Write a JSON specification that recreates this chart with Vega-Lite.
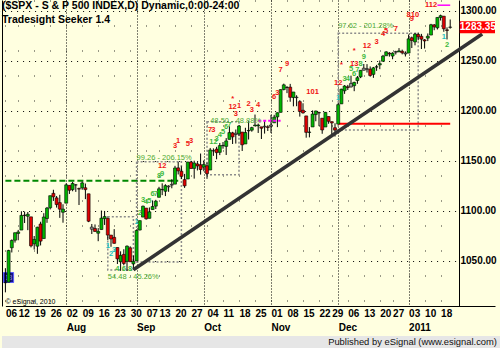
{
  "$schema": "https://vega.github.io/schema/vega-lite/v6.json",
  "background": "#FFFFE0",
  "padding": 0,
  "spacing": 0,
  "align": "none",
  "config": {
    "view": {"stroke": null},
    "font": "Liberation Sans",
    "axis": {"labelFont": "Liberation Sans", "labelFontWeight": "bold", "labelFontSize": 10, "labelColor": "#000000", "ticks": false, "domainColor": "#000000", "gridColor": "#000000", "zindex": 0, "labelOverlap": false, "labelFlush": false, "labelBound": false}
  },
  "datasets": {
    "px": [
      {"d":"2010-07-06","o":1028.09,"h":1042.5,"l":1018.35,"c":1028.06},
      {"d":"2010-07-07","o":1028.54,"h":1060.89,"l":1028.54,"c":1060.27},
      {"d":"2010-07-08","o":1062.92,"h":1071.25,"l":1058.24,"c":1070.25},
      {"d":"2010-07-09","o":1070.5,"h":1078.16,"l":1068.1,"c":1077.96},
      {"d":"2010-07-12","o":1077.23,"h":1080.78,"l":1070.45,"c":1078.75},
      {"d":"2010-07-13","o":1080.65,"h":1099.46,"l":1080.65,"c":1095.34},
      {"d":"2010-07-14","o":1095.61,"h":1099.08,"l":1087.68,"c":1095.17},
      {"d":"2010-07-15","o":1094.46,"h":1098.66,"l":1080.53,"c":1096.48},
      {"d":"2010-07-16","o":1093.85,"h":1093.85,"l":1063.32,"c":1064.88},
      {"d":"2010-07-19","o":1066.85,"h":1074.7,"l":1061.11,"c":1071.25},
      {"d":"2010-07-20","o":1064.53,"h":1083.94,"l":1056.88,"c":1083.48},
      {"d":"2010-07-21","o":1086.67,"h":1088.96,"l":1065.25,"c":1069.59},
      {"d":"2010-07-22","o":1072.14,"h":1097.5,"l":1072.14,"c":1093.67},
      {"d":"2010-07-23","o":1092.17,"h":1103.73,"l":1087.88,"c":1102.66},
      {"d":"2010-07-26","o":1102.89,"h":1115.01,"l":1101.3,"c":1115.01},
      {"d":"2010-07-27","o":1117.36,"h":1120.95,"l":1109.78,"c":1113.84},
      {"d":"2010-07-28","o":1112.84,"h":1114.66,"l":1103.11,"c":1106.13},
      {"d":"2010-07-29","o":1108.07,"h":1115.9,"l":1092.82,"c":1101.53},
      {"d":"2010-07-30","o":1098.44,"h":1106.44,"l":1088.01,"c":1101.6},
      {"d":"2010-08-02","o":1107.53,"h":1127.3,"l":1107.53,"c":1125.86},
      {"d":"2010-08-03","o":1125.34,"h":1125.44,"l":1116.76,"c":1120.46},
      {"d":"2010-08-04","o":1121.06,"h":1128.75,"l":1119.46,"c":1127.24},
      {"d":"2010-08-05","o":1125.78,"h":1126.56,"l":1118.81,"c":1125.81},
      {"d":"2010-08-06","o":1122.07,"h":1123.06,"l":1105.67,"c":1121.64},
      {"d":"2010-08-09","o":1122.8,"h":1129.24,"l":1120.91,"c":1127.79},
      {"d":"2010-08-10","o":1122.92,"h":1127.16,"l":1111.58,"c":1121.06},
      {"d":"2010-08-11","o":1116.89,"h":1116.89,"l":1088.55,"c":1089.47},
      {"d":"2010-08-12","o":1081.48,"h":1086.72,"l":1076.69,"c":1083.61},
      {"d":"2010-08-13","o":1082.22,"h":1086.25,"l":1079.0,"c":1079.25},
      {"d":"2010-08-16","o":1077.49,"h":1082.62,"l":1069.49,"c":1079.38},
      {"d":"2010-08-17","o":1081.16,"h":1100.14,"l":1081.16,"c":1092.54},
      {"d":"2010-08-18","o":1092.08,"h":1099.77,"l":1085.76,"c":1094.16},
      {"d":"2010-08-19","o":1092.44,"h":1092.44,"l":1070.66,"c":1075.63},
      {"d":"2010-08-20","o":1075.63,"h":1075.63,"l":1063.91,"c":1071.69},
      {"d":"2010-08-23","o":1073.36,"h":1081.58,"l":1067.08,"c":1067.36},
      {"d":"2010-08-24","o":1063.2,"h":1063.2,"l":1046.68,"c":1051.87},
      {"d":"2010-08-25","o":1048.98,"h":1059.38,"l":1039.83,"c":1055.33},
      {"d":"2010-08-26","o":1056.28,"h":1061.45,"l":1045.4,"c":1047.22},
      {"d":"2010-08-27","o":1049.27,"h":1065.21,"l":1039.7,"c":1064.59},
      {"d":"2010-08-30","o":1062.9,"h":1064.4,"l":1048.79,"c":1048.92},
      {"d":"2010-08-31","o":1046.88,"h":1055.14,"l":1040.88,"c":1049.33},
      {"d":"2010-09-01","o":1049.72,"h":1081.3,"l":1049.72,"c":1080.29},
      {"d":"2010-09-02","o":1080.66,"h":1090.1,"l":1080.39,"c":1090.1},
      {"d":"2010-09-03","o":1093.61,"h":1105.1,"l":1093.61,"c":1104.51},
      {"d":"2010-09-07","o":1102.6,"h":1102.6,"l":1091.15,"c":1091.84},
      {"d":"2010-09-08","o":1092.36,"h":1103.26,"l":1092.36,"c":1098.87},
      {"d":"2010-09-09","o":1101.15,"h":1110.27,"l":1101.15,"c":1104.18},
      {"d":"2010-09-10","o":1104.57,"h":1110.88,"l":1101.67,"c":1109.55},
      {"d":"2010-09-13","o":1113.38,"h":1123.87,"l":1113.38,"c":1121.9},
      {"d":"2010-09-14","o":1121.16,"h":1127.36,"l":1115.58,"c":1121.1},
      {"d":"2010-09-15","o":1119.43,"h":1126.46,"l":1114.63,"c":1125.07},
      {"d":"2010-09-16","o":1123.89,"h":1125.44,"l":1118.88,"c":1124.66},
      {"d":"2010-09-17","o":1126.39,"h":1131.47,"l":1122.43,"c":1125.59},
      {"d":"2010-09-20","o":1126.57,"h":1144.86,"l":1126.57,"c":1142.71},
      {"d":"2010-09-21","o":1142.82,"h":1148.59,"l":1136.22,"c":1139.78},
      {"d":"2010-09-22","o":1139.49,"h":1144.38,"l":1131.58,"c":1134.28},
      {"d":"2010-09-23","o":1131.1,"h":1136.77,"l":1122.79,"c":1124.83},
      {"d":"2010-09-24","o":1131.69,"h":1148.9,"l":1131.69,"c":1148.67},
      {"d":"2010-09-27","o":1148.64,"h":1149.92,"l":1142.0,"c":1142.16},
      {"d":"2010-09-28","o":1142.31,"h":1150.0,"l":1132.09,"c":1147.7},
      {"d":"2010-09-29","o":1146.75,"h":1148.63,"l":1140.26,"c":1144.73},
      {"d":"2010-09-30","o":1145.97,"h":1157.16,"l":1136.08,"c":1141.2},
      {"d":"2010-10-01","o":1143.49,"h":1150.3,"l":1139.42,"c":1146.24},
      {"d":"2010-10-04","o":1144.96,"h":1148.16,"l":1131.87,"c":1137.03},
      {"d":"2010-10-05","o":1140.68,"h":1162.76,"l":1140.68,"c":1160.75},
      {"d":"2010-10-06","o":1159.81,"h":1162.33,"l":1154.85,"c":1159.97},
      {"d":"2010-10-07","o":1161.57,"h":1163.87,"l":1151.41,"c":1158.06},
      {"d":"2010-10-08","o":1158.36,"h":1167.73,"l":1155.58,"c":1165.15},
      {"d":"2010-10-11","o":1165.0,"h":1168.68,"l":1162.02,"c":1165.32},
      {"d":"2010-10-12","o":1164.28,"h":1172.58,"l":1155.71,"c":1169.77},
      {"d":"2010-10-13","o":1171.32,"h":1184.38,"l":1171.32,"c":1178.1},
      {"d":"2010-10-14","o":1177.82,"h":1178.89,"l":1166.71,"c":1173.81},
      {"d":"2010-10-15","o":1177.47,"h":1181.2,"l":1167.12,"c":1176.19},
      {"d":"2010-10-18","o":1176.83,"h":1185.53,"l":1174.55,"c":1184.71},
      {"d":"2010-10-19","o":1178.64,"h":1178.64,"l":1159.71,"c":1165.9},
      {"d":"2010-10-20","o":1166.74,"h":1182.94,"l":1166.74,"c":1178.17},
      {"d":"2010-10-21","o":1179.82,"h":1189.43,"l":1171.17,"c":1180.26},
      {"d":"2010-10-22","o":1180.52,"h":1183.93,"l":1178.99,"c":1183.08},
      {"d":"2010-10-25","o":1184.74,"h":1196.14,"l":1184.74,"c":1185.62},
      {"d":"2010-10-26","o":1184.88,"h":1187.11,"l":1177.72,"c":1185.64},
      {"d":"2010-10-27","o":1183.84,"h":1183.84,"l":1171.7,"c":1182.45},
      {"d":"2010-10-28","o":1184.47,"h":1189.53,"l":1177.1,"c":1183.78},
      {"d":"2010-10-29","o":1183.87,"h":1185.46,"l":1179.7,"c":1183.26},
      {"d":"2010-11-01","o":1185.71,"h":1195.81,"l":1177.65,"c":1184.38},
      {"d":"2010-11-02","o":1187.86,"h":1195.88,"l":1187.86,"c":1193.57},
      {"d":"2010-11-03","o":1193.79,"h":1198.3,"l":1183.56,"c":1197.96},
      {"d":"2010-11-04","o":1198.34,"h":1221.25,"l":1198.34,"c":1221.06},
      {"d":"2010-11-05","o":1221.2,"h":1227.08,"l":1220.29,"c":1225.85},
      {"d":"2010-11-08","o":1223.24,"h":1224.57,"l":1217.55,"c":1223.25},
      {"d":"2010-11-09","o":1223.59,"h":1226.84,"l":1208.94,"c":1213.4},
      {"d":"2010-11-10","o":1213.14,"h":1218.75,"l":1204.33,"c":1218.71},
      {"d":"2010-11-11","o":1213.04,"h":1215.45,"l":1204.49,"c":1213.54},
      {"d":"2010-11-12","o":1209.07,"h":1210.5,"l":1194.08,"c":1199.21},
      {"d":"2010-11-15","o":1200.44,"h":1207.43,"l":1197.15,"c":1197.75},
      {"d":"2010-11-16","o":1194.79,"h":1194.79,"l":1173.0,"c":1178.34},
      {"d":"2010-11-17","o":1178.33,"h":1183.56,"l":1173.34,"c":1178.59},
      {"d":"2010-11-18","o":1183.75,"h":1200.29,"l":1183.75,"c":1196.69},
      {"d":"2010-11-19","o":1196.12,"h":1199.97,"l":1189.44,"c":1199.73},
      {"d":"2010-11-22","o":1198.07,"h":1198.94,"l":1184.58,"c":1197.84},
      {"d":"2010-11-23","o":1192.51,"h":1192.51,"l":1176.91,"c":1180.73},
      {"d":"2010-11-24","o":1183.7,"h":1198.62,"l":1183.7,"c":1198.35},
      {"d":"2010-11-26","o":1194.16,"h":1194.16,"l":1186.93,"c":1189.4},
      {"d":"2010-11-29","o":1189.08,"h":1189.08,"l":1173.64,"c":1187.76},
      {"d":"2010-11-30","o":1182.96,"h":1187.4,"l":1174.14,"c":1180.55},
      {"d":"2010-12-01","o":1186.6,"h":1207.61,"l":1186.6,"c":1206.07},
      {"d":"2010-12-02","o":1206.81,"h":1221.89,"l":1206.81,"c":1221.53},
      {"d":"2010-12-03","o":1219.93,"h":1225.57,"l":1216.82,"c":1224.71},
      {"d":"2010-12-06","o":1223.87,"h":1225.8,"l":1220.67,"c":1223.12},
      {"d":"2010-12-07","o":1227.25,"h":1235.05,"l":1223.25,"c":1223.75},
      {"d":"2010-12-08","o":1225.02,"h":1228.93,"l":1219.5,"c":1228.28},
      {"d":"2010-12-09","o":1230.14,"h":1234.71,"l":1226.85,"c":1233.0},
      {"d":"2010-12-10","o":1233.85,"h":1240.4,"l":1232.58,"c":1240.4},
      {"d":"2010-12-13","o":1242.52,"h":1246.73,"l":1240.34,"c":1240.46},
      {"d":"2010-12-14","o":1241.84,"h":1246.59,"l":1238.17,"c":1241.59},
      {"d":"2010-12-15","o":1241.58,"h":1244.25,"l":1234.01,"c":1235.23},
      {"d":"2010-12-16","o":1236.34,"h":1243.75,"l":1232.85,"c":1242.87},
      {"d":"2010-12-17","o":1243.63,"h":1245.81,"l":1239.87,"c":1243.91},
      {"d":"2010-12-20","o":1245.76,"h":1250.2,"l":1241.51,"c":1247.08},
      {"d":"2010-12-21","o":1249.43,"h":1255.82,"l":1249.43,"c":1254.6},
      {"d":"2010-12-22","o":1254.94,"h":1259.39,"l":1254.94,"c":1258.84},
      {"d":"2010-12-23","o":1257.53,"h":1258.59,"l":1254.05,"c":1256.77},
      {"d":"2010-12-27","o":1254.66,"h":1258.43,"l":1251.48,"c":1257.54},
      {"d":"2010-12-28","o":1259.1,"h":1259.9,"l":1256.22,"c":1258.51},
      {"d":"2010-12-29","o":1258.78,"h":1262.6,"l":1258.78,"c":1259.78},
      {"d":"2010-12-30","o":1259.44,"h":1261.09,"l":1256.32,"c":1257.88},
      {"d":"2010-12-31","o":1256.76,"h":1259.34,"l":1254.19,"c":1257.64},
      {"d":"2011-01-03","o":1257.62,"h":1276.17,"l":1257.62,"c":1271.87},
      {"d":"2011-01-04","o":1272.95,"h":1274.12,"l":1262.66,"c":1270.2},
      {"d":"2011-01-05","o":1268.78,"h":1277.63,"l":1265.36,"c":1276.56},
      {"d":"2011-01-06","o":1276.29,"h":1278.17,"l":1270.43,"c":1273.85},
      {"d":"2011-01-07","o":1274.41,"h":1276.83,"l":1261.7,"c":1271.5},
      {"d":"2011-01-10","o":1270.84,"h":1271.52,"l":1262.18,"c":1269.75},
      {"d":"2011-01-11","o":1272.58,"h":1277.25,"l":1269.62,"c":1274.48},
      {"d":"2011-01-12","o":1275.65,"h":1286.87,"l":1275.65,"c":1285.96},
      {"d":"2011-01-13","o":1285.78,"h":1286.7,"l":1280.47,"c":1283.76},
      {"d":"2011-01-14","o":1282.9,"h":1293.24,"l":1281.24,"c":1293.24},
      {"d":"2011-01-18","o":1293.22,"h":1296.06,"l":1290.16,"c":1295.02},
      {"d":"2011-01-19","o":1294.52,"h":1294.6,"l":1278.92,"c":1281.92},
      {"d":"2011-01-20","o":1280.85,"h":1283.35,"l":1271.26,"c":1280.26},
      {"d":"2011-01-21","o":1283.63,"h":1291.21,"l":1282.07,"c":1283.35}
    ],
    "ann": [
      {"d":"2010-09-14","p":1145,"t":"12","k":"r"},
      {"d":"2010-09-20","p":1165,"t":"3","k":"r"},
      {"d":"2010-09-21","p":1170,"t":"1","k":"r"},
      {"d":"2010-09-24","p":1167,"t":"5","k":"r"},
      {"d":"2010-09-27","p":1170,"t":"3","k":"r"},
      {"d":"2010-10-05","p":1181,"t":"7","k":"r"},
      {"d":"2010-10-06","p":1181,"t":"3","k":"r"},
      {"d":"2010-10-14","p":1204,"t":"12","k":"r"},
      {"d":"2010-10-15","p":1197,"t":"3","k":"r"},
      {"d":"2010-10-18","p":1205,"t":"1","k":"r"},
      {"d":"2010-10-14","p":1212,"t":"*","k":"r"},
      {"d":"2010-10-21","p":1207,"t":"2","k":"r"},
      {"d":"2010-10-22","p":1201,"t":"3","k":"r"},
      {"d":"2010-10-26","p":1206,"t":"4","k":"r"},
      {"d":"2010-11-02","p":1214,"t":"6","k":"r"},
      {"d":"2010-11-03","p":1218,"t":"3","k":"r"},
      {"d":"2010-11-04","p":1241,"t":"7","k":"r"},
      {"d":"2010-11-08","p":1247,"t":"9","k":"r"},
      {"d":"2010-11-18","p":1219,"t":"101","k":"r"},
      {"d":"2010-12-01","p":1228,"t":"12","k":"r"},
      {"d":"2010-12-02","p":1246,"t":"*","k":"r"},
      {"d":"2010-12-08","p":1247,"t":"13","k":"r"},
      {"d":"2010-12-08","p":1260,"t":"*","k":"r"},
      {"d":"2010-12-14","p":1265,"t":"12","k":"r"},
      {"d":"2010-12-17","p":1269,"t":"3","k":"r"},
      {"d":"2010-12-21","p":1277,"t":"4","k":"r"},
      {"d":"2010-12-22","p":1280,"t":"5","k":"r"},
      {"d":"2010-12-28","p":1282,"t":"7","k":"r"},
      {"d":"2011-01-03","p":1296,"t":"8","k":"r"},
      {"d":"2011-01-04","p":1292,"t":"9","k":"r"},
      {"d":"2011-01-05","p":1296,"t":"10","k":"r"},
      {"d":"2011-01-12","p":1305.5,"t":"112","k":"r"},
      {"d":"2010-08-19","p":1065,"t":"1","k":"c"},
      {"d":"2010-08-20","p":1057,"t":"2","k":"c"},
      {"d":"2010-08-23","p":1061,"t":"3","k":"c"},
      {"d":"2010-08-24","p":1042,"t":"4","k":"g"},
      {"d":"2010-08-26","p":1042,"t":"6","k":"g"},
      {"d":"2010-08-30","p":1042,"t":"8","k":"g"},
      {"d":"2010-09-01","p":1089,"t":"1","k":"c"},
      {"d":"2010-09-02","p":1098,"t":"2","k":"g"},
      {"d":"2010-09-03","p":1111,"t":"3","k":"g"},
      {"d":"2010-09-07","p":1109,"t":"4","k":"g"},
      {"d":"2010-09-08","p":1110,"t":"5","k":"g"},
      {"d":"2010-09-09","p":1117,"t":"6","k":"g"},
      {"d":"2010-09-10","p":1117,"t":"7","k":"g"},
      {"d":"2010-09-13","p":1135,"t":"8","k":"g"},
      {"d":"2010-09-14","p":1137,"t":"9","k":"g"},
      {"d":"2010-10-06","p":1169,"t":"12","k":"g"},
      {"d":"2010-10-07","p":1172,"t":"3","k":"g"},
      {"d":"2010-10-08","p":1176,"t":"4","k":"g"},
      {"d":"2010-10-11","p":1179,"t":"5","k":"g"},
      {"d":"2010-10-12","p":1184,"t":"6","k":"g"},
      {"d":"2010-10-13","p":1186,"t":"7","k":"g"},
      {"d":"2010-12-01","p":1213,"t":"1","k":"c"},
      {"d":"2010-12-03","p":1232,"t":"3","k":"g"},
      {"d":"2010-12-06","p":1232,"t":"4","k":"g"},
      {"d":"2010-12-07","p":1242,"t":"5","k":"g"},
      {"d":"2010-12-08","p":1237,"t":"6","k":"g"},
      {"d":"2010-12-09","p":1241,"t":"7","k":"g"},
      {"d":"2010-12-10","p":1247,"t":"8","k":"g"},
      {"d":"2010-12-13","p":1254,"t":"9","k":"g"},
      {"d":"2011-01-19","p":1274,"t":"1","k":"c"},
      {"d":"2011-01-20","p":1266,"t":"2","k":"g"}
    ]
  },
  "vconcat": [
    {
      "width": 457,
      "height": 306,
      "title": {"text": ["($SPX - S & P 500 INDEX,D) Dynamic,0:00-24:00", "Tradesight Seeker 1.4"], "anchor": "start", "frame": "group", "orient": "top", "offset": -33.5, "baseline": "alphabetic", "lineHeight": 14, "fontSize": 10.5, "fontWeight": "bold", "font": "Liberation Sans", "color": "#000000"},
      "resolve": {"axis": {"x": "independent", "y": "independent"}},
      "layer": [
        {
          "data": {"values": [{"d1": "2010-07-06", "d2": "2010-09-21", "p": 1130}]},
          "mark": {"type": "rule", "color": "#008800", "strokeWidth": 2, "strokeDash": [6, 3]},
          "encoding": {
            "x": {"field": "d1", "type": "ordinal",
              "scale": {"type": "point", "padding": 0, "range": [3.4, 493], "domain": ["2010-07-06","2010-07-07","2010-07-08","2010-07-09","2010-07-12","2010-07-13","2010-07-14","2010-07-15","2010-07-16","2010-07-19","2010-07-20","2010-07-21","2010-07-22","2010-07-23","2010-07-26","2010-07-27","2010-07-28","2010-07-29","2010-07-30","2010-08-02","2010-08-03","2010-08-04","2010-08-05","2010-08-06","2010-08-09","2010-08-10","2010-08-11","2010-08-12","2010-08-13","2010-08-16","2010-08-17","2010-08-18","2010-08-19","2010-08-20","2010-08-23","2010-08-24","2010-08-25","2010-08-26","2010-08-27","2010-08-30","2010-08-31","2010-09-01","2010-09-02","2010-09-03","2010-09-07","2010-09-08","2010-09-09","2010-09-10","2010-09-13","2010-09-14","2010-09-15","2010-09-16","2010-09-17","2010-09-20","2010-09-21","2010-09-22","2010-09-23","2010-09-24","2010-09-27","2010-09-28","2010-09-29","2010-09-30","2010-10-01","2010-10-04","2010-10-05","2010-10-06","2010-10-07","2010-10-08","2010-10-11","2010-10-12","2010-10-13","2010-10-14","2010-10-15","2010-10-18","2010-10-19","2010-10-20","2010-10-21","2010-10-22","2010-10-25","2010-10-26","2010-10-27","2010-10-28","2010-10-29","2010-11-01","2010-11-02","2010-11-03","2010-11-04","2010-11-05","2010-11-08","2010-11-09","2010-11-10","2010-11-11","2010-11-12","2010-11-15","2010-11-16","2010-11-17","2010-11-18","2010-11-19","2010-11-22","2010-11-23","2010-11-24","2010-11-26","2010-11-29","2010-11-30","2010-12-01","2010-12-02","2010-12-03","2010-12-06","2010-12-07","2010-12-08","2010-12-09","2010-12-10","2010-12-13","2010-12-14","2010-12-15","2010-12-16","2010-12-17","2010-12-20","2010-12-21","2010-12-22","2010-12-23","2010-12-27","2010-12-28","2010-12-29","2010-12-30","2010-12-31","2011-01-03","2011-01-04","2011-01-05","2011-01-06","2011-01-07","2011-01-10","2011-01-11","2011-01-12","2011-01-13","2011-01-14","2011-01-18","2011-01-19","2011-01-20","2011-01-21","2011-01-24","2011-01-25","2011-01-26","2011-01-27","2011-01-28","2011-01-31","2011-02-01","2011-02-02","2011-02-03","2011-02-04","2011-02-07","2011-02-08","2011-02-09","2011-02-10"]},
              "axis": {"orient": "bottom", "title": "© eSignal, 2010", "titleX": 3, "titleY": -5, "titleAlign": "left", "titleBaseline": "middle", "titleFontSize": 7, "titleFontWeight": "normal", "titleColor": "#000000", "titleFont": "Liberation Sans",
                "values": ["2010-07-06","2010-07-12","2010-07-19","2010-07-26","2010-08-02","2010-08-09","2010-08-16","2010-08-23","2010-08-30","2010-09-07","2010-09-13","2010-09-20","2010-09-27","2010-10-04","2010-10-11","2010-10-18","2010-10-25","2010-11-01","2010-11-08","2010-11-15","2010-11-22","2010-11-29","2010-12-06","2010-12-13","2010-12-20","2010-12-27","2011-01-03","2011-01-10","2011-01-18"],
                "labelExpr": "substring(datum.value, 8, 10)", "labelAngle": 0, "labelAlign": "left", "labelBaseline": "top", "labelPadding": 2, "domain": true, "grid": true, "gridDash": [1, 24], "gridOpacity": 0.8}},
            "x2": {"field": "d2"},
            "y": {"field": "p", "type": "quantitative", "scale": {"domain": [1004.7, 1310.7], "nice": false, "zero": false},
              "axis": {"orient": "right", "title": null, "values": [1050, 1100, 1150, 1200, 1250, 1300], "format": ".2f", "labelPadding": 1, "domain": true, "grid": true, "gridDash": [1, 5]}}
          }
        },
        {
          "data": {"values": [
            {"d1":"2010-08-19","d2":"2010-08-31","p1":1094,"p2":1040.7},
            {"d1":"2010-09-01","d2":"2010-09-22","p1":1149,"p2":1048.7},
            {"d1":"2010-10-04","d2":"2010-10-18","p1":1189,"p2":1136},
            {"d1":"2010-12-01","d2":"2011-01-06","p1":1277.4,"p2":1180.7}
          ]},
          "mark": {"type": "rect", "filled": false, "stroke": "#8c8c8c", "strokeWidth": 1.5, "strokeDash": [2, 2]},
          "encoding": {
            "x": {"field": "d1", "type": "ordinal",
              "axis": {"orient": "bottom", "title": null, "values": ["2010-08-02","2010-09-01","2010-10-01","2010-11-01","2010-12-01","2011-01-03"],
                "labelExpr": "substring(datum.value,0,4)=='2011' ? '2011' : substring(datum.value,5,7)=='08' ? 'Aug' : substring(datum.value,5,7)=='09' ? 'Sep' : substring(datum.value,5,7)=='10' ? 'Oct' : substring(datum.value,5,7)=='11' ? 'Nov' : 'Dec'",
                "labelAngle": 0, "labelAlign": "left", "labelBaseline": "top", "labelPadding": 16, "domain": false, "grid": true, "gridDash": [1, 2], "minExtent": 30, "maxExtent": 30}},
            "x2": {"field": "d2"},
            "y": {"field": "p1", "type": "quantitative", "axis": {"orient": "left", "title": null, "labels": false, "grid": false, "domain": true, "minExtent": 2, "maxExtent": 2}},
            "y2": {"field": "p2"}
          }
        },
        {
          "data": {"values": [{"d": "2010-07-07", "p": 1033.2, "t": "13"}]},
          "mark": {"type": "point", "shape": "square", "size": 100, "filled": true, "fill": "#14148a", "stroke": "#5a5aff", "strokeWidth": 1, "opacity": 1},
          "encoding": {
            "x": {"field": "d", "type": "ordinal", "axis": null},
            "y": {"field": "p", "type": "quantitative", "axis": null}
          }
        },
        {
          "data": {"values": [{"d": "2010-07-07", "p": 1033.2, "t": "13"}]},
          "mark": {"type": "text", "fontSize": 6.5, "color": "#a0a0ff", "align": "center", "baseline": "middle"},
          "encoding": {
            "x": {"field": "d", "type": "ordinal", "axis": null},
            "y": {"field": "p", "type": "quantitative", "axis": null},
            "text": {"field": "t"}
          }
        },
        {
          "data": {"values": [{"d1": "2010-12-01", "d2": "2011-01-21", "p": 1187}]},
          "mark": {"type": "rule", "color": "#FF0000", "strokeWidth": 2},
          "encoding": {
            "x": {"field": "d1", "type": "ordinal", "axis": null},
            "x2": {"field": "d2"},
            "y": {"field": "p", "type": "quantitative", "axis": null}
          }
        },
        {
          "data": {"name": "px"},
          "mark": {"type": "rule", "color": "#000000", "strokeWidth": 1},
          "encoding": {
            "x": {"field": "d", "type": "ordinal", "axis": null},
            "y": {"field": "l", "type": "quantitative", "axis": null},
            "y2": {"field": "h"}
          }
        },
        {
          "data": {"name": "px"},
          "transform": [{"window": [{"op": "lag", "field": "c", "as": "pc"}], "sort": [{"field": "d"}]}],
          "mark": {"type": "bar", "width": 3, "stroke": "#000000", "strokeWidth": 0.6},
          "encoding": {
            "x": {"field": "d", "type": "ordinal", "axis": null},
            "y": {"field": "o", "type": "quantitative", "axis": null},
            "y2": {"field": "c"},
            "color": {"condition": [
              {"test": "datum.c >= datum.o && (datum.pc == null || datum.c >= datum.pc)", "value": "#00B400"},
              {"test": "datum.c < datum.o && (datum.pc == null || datum.c < datum.pc)", "value": "#E00000"}
            ], "value": "#999999"}
          }
        },
        {
          "data": {"values": [{"d1": "2010-10-26", "d2": "2010-11-04", "p": 1190}]},
          "mark": {"type": "rule", "color": "#FF00FF", "strokeWidth": 2, "strokeDash": [3, 2]},
          "encoding": {
            "x": {"field": "d1", "type": "ordinal", "axis": null},
            "x2": {"field": "d2"},
            "y": {"field": "p", "type": "quantitative", "axis": null}
          }
        },
        {
          "data": {"values": [{"d1": "2011-01-14", "d2": "2011-01-21", "p": 1305.5}]},
          "mark": {"type": "rule", "color": "#FF00FF", "strokeWidth": 1.5},
          "encoding": {
            "x": {"field": "d1", "type": "ordinal", "axis": null},
            "x2": {"field": "d2"},
            "y": {"field": "p", "type": "quantitative", "axis": null}
          }
        },
        {
          "data": {"values": [{"d1": "2010-08-31", "p1": 1040.9, "d2": "2011-02-04", "p2": 1276.7}]},
          "mark": {"type": "rule", "color": "#333333", "strokeWidth": 3.5, "strokeCap": "butt"},
          "encoding": {
            "x": {"field": "d1", "type": "ordinal", "axis": null},
            "x2": {"field": "d2"},
            "y": {"field": "p1", "type": "quantitative", "axis": null},
            "y2": {"field": "p2"}
          }
        },
        {
          "data": {"name": "ann"},
          "mark": {"type": "text", "fontSize": 7.5, "fontWeight": "bold", "align": "center", "baseline": "middle", "font": "Liberation Sans"},
          "encoding": {
            "x": {"field": "d", "type": "ordinal", "axis": null},
            "y": {"field": "p", "type": "quantitative", "axis": null},
            "text": {"field": "t"},
            "color": {"field": "k", "type": "nominal", "scale": {"domain": ["r", "g", "c"], "range": ["#F01414", "#3DB83D", "#22C0C0"]}, "legend": null}
          }
        },
        {
          "data": {"values": [
            {"d": "2010-08-19", "p": 1033.5, "t": "54.48 - 45.26%"},
            {"d": "2010-09-01", "p": 1153, "t": "99.26 - 206.15%"},
            {"d": "2010-10-05", "p": 1190, "t": "48.50 - 48.88%"},
            {"d": "2010-12-01", "p": 1284.7, "t": "97.62 - 201.28%"}
          ]},
          "mark": {"type": "text", "fontSize": 7.5, "align": "left", "baseline": "middle", "color": "#4CA832", "font": "Liberation Sans"},
          "encoding": {
            "x": {"field": "d", "type": "ordinal", "axis": null},
            "y": {"field": "p", "type": "quantitative", "axis": null},
            "text": {"field": "t"}
          }
        },
        {
          "data": {"values": [{"d1": "2011-01-26", "d2": "2011-02-10", "p": 1283.35}]},
          "mark": {"type": "rule", "color": "#FF0000", "strokeWidth": 12, "strokeCap": "butt"},
          "encoding": {
            "x": {"field": "d1", "type": "ordinal", "axis": null},
            "x2": {"field": "d2"},
            "y": {"field": "p", "type": "quantitative", "axis": null}
          }
        },
        {
          "data": {"values": [{"d1": "2011-01-26", "p": 1283.35}]},
          "mark": {"type": "text", "fontSize": 10, "fontWeight": "bold", "align": "left", "baseline": "middle", "dx": 0, "color": "#FFFFFF", "font": "Liberation Sans"},
          "encoding": {
            "x": {"field": "d1", "type": "ordinal", "axis": null},
            "y": {"field": "p", "type": "quantitative", "axis": null},
            "text": {"field": "p", "type": "quantitative", "format": ".2f"}
          }
        }
      ]
    },
    {
      "width": 500,
      "height": 12,
      "view": {"fill": "#E6E6E6", "stroke": null},
      "data": {"values": [{"t": "Published by eSignal (www.esignal.com)"}]},
      "mark": {"type": "text", "align": "right", "baseline": "middle", "dx": -5, "dy": -6, "font": "Liberation Sans", "fontSize": 9.4, "color": "#111111"},
      "encoding": {
        "x": {"value": "width"},
        "y": {"value": "height"},
        "text": {"field": "t"}
      }
    }
  ]
}
